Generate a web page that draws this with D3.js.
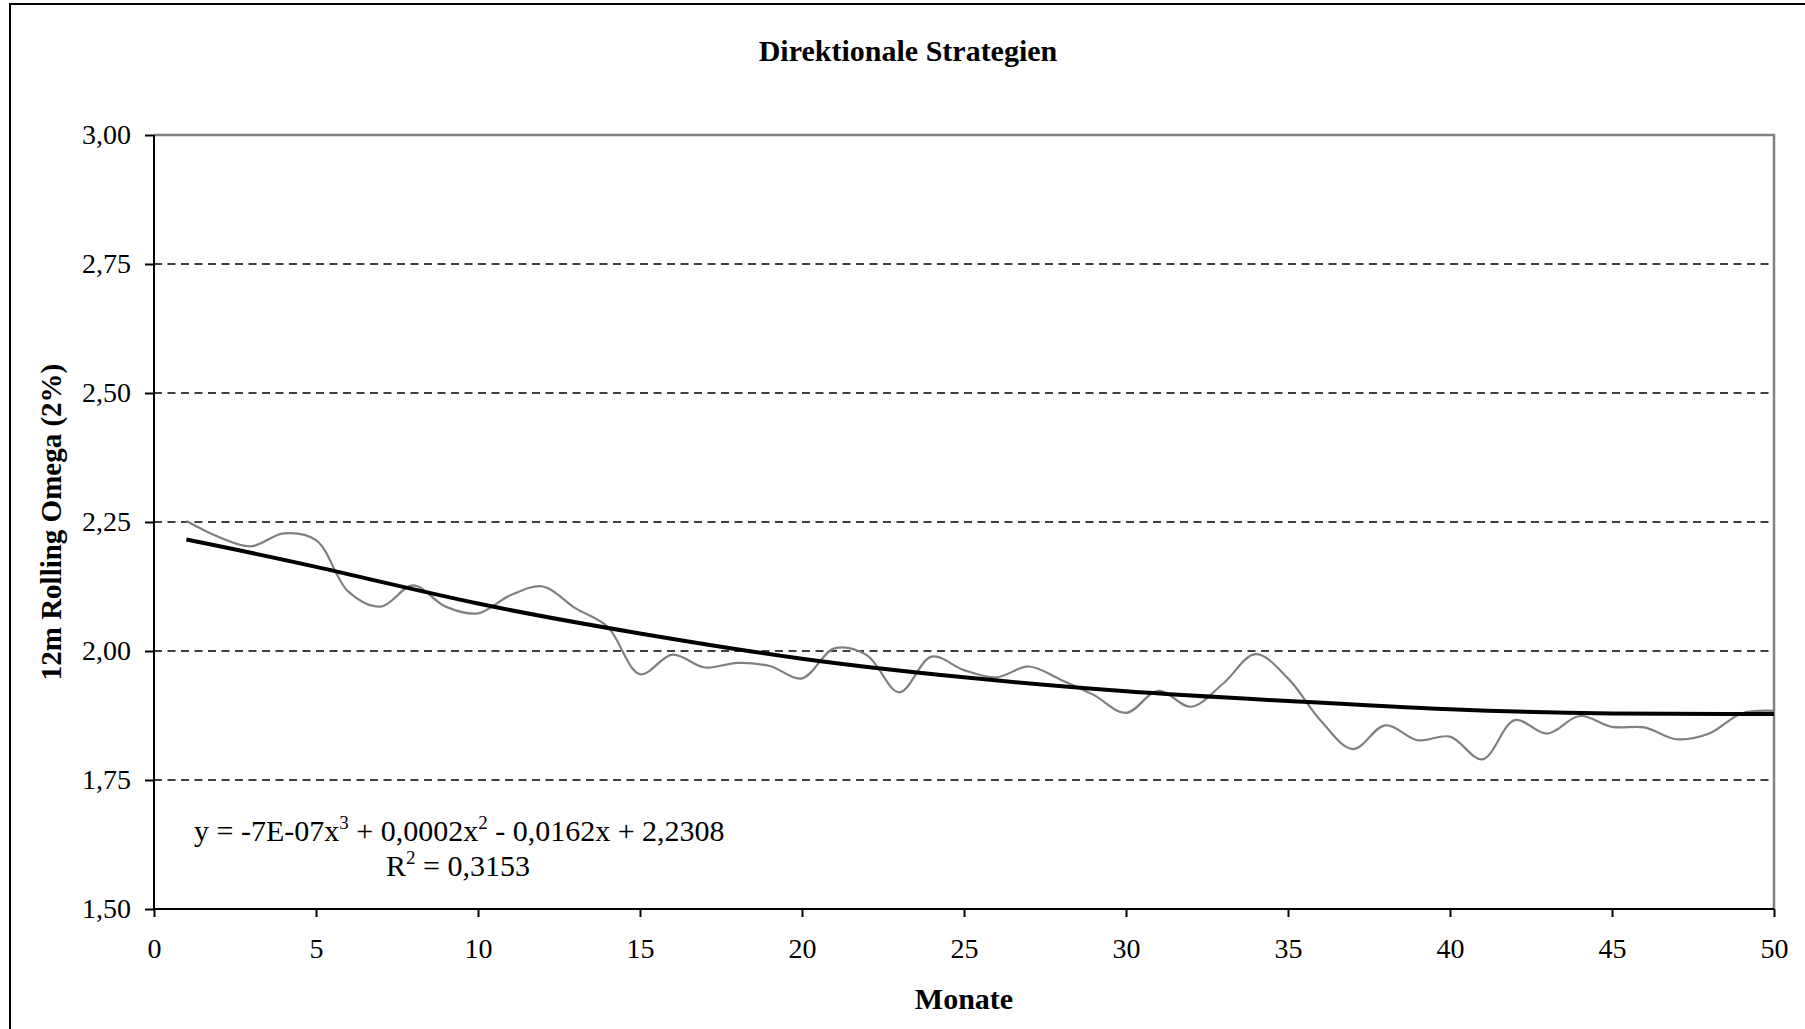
<!DOCTYPE html>
<html>
<head>
  <style>
    body { margin: 0; background: #fff; }
    svg text { font-family: "Liberation Serif", "Times New Roman", serif; fill: #000; }
  </style>
</head>
<body>
  <script src="https://d3js.org/d3.v7.min.js"></script>
  <script>
    // months 1..50
    const months = d3.range(1, 51);
    const omega = [
      2.252, 2.221, 2.203, 2.228, 2.215, 2.115, 2.086, 2.127, 2.086, 2.073,
      2.108, 2.125, 2.083, 2.047, 1.955, 1.993, 1.968, 1.977, 1.971, 1.947,
      2.005, 1.992, 1.920, 1.989, 1.963, 1.949, 1.970, 1.944, 1.915, 1.880,
      1.923, 1.892, 1.937, 1.994, 1.947, 1.866, 1.810, 1.856, 1.827, 1.834,
      1.790, 1.866, 1.840, 1.874, 1.853, 1.852, 1.829, 1.840, 1.879, 1.884
    ];
    // polynomial trend (3rd order)
    const trendX = [1, 5, 10, 15, 20, 25, 30, 35, 40, 45, 50];
    const trendY = [2.216, 2.163, 2.092, 2.034, 1.985, 1.949, 1.922, 1.903, 1.887, 1.879, 1.878];
    const yTicks = [1.5, 1.75, 2.0, 2.25, 2.5, 2.75, 3.0];
    const xTicks = [0, 5, 10, 15, 20, 25, 30, 35, 40, 45, 50];

    const width = 1805, height = 1029;
    const margin = { top: 135, right: 31, bottom: 120, left: 154 };
    const fmt = d => d.toFixed(2).replace('.', ',');

    const svg = d3.select('body').append('svg')
      .attr('width', width)
      .attr('height', height);

    // outer chart border
    svg.append('rect')
      .attr('x', 10).attr('y', 4)
      .attr('width', width).attr('height', height)
      .attr('fill', 'none')
      .attr('stroke', '#000')
      .attr('stroke-width', 2);

    const x = d3.scaleLinear().domain([0, 50]).range([margin.left, width - margin.right]);
    const y = d3.scaleLinear().domain([1.5, 3.0]).range([height - margin.bottom, margin.top]);

    // grid lines
    svg.append('g')
      .selectAll('line')
      .data(yTicks.filter(d => d > 1.5 && d < 3.0))
      .enter().append('line')
      .attr('x1', x(0)).attr('x2', x(50))
      .attr('y1', d => y(d)).attr('y2', d => y(d))
      .attr('stroke', '#000')
      .attr('stroke-width', 1.5)
      .attr('stroke-dasharray', '8,5.5');

    // plot frame top and right (grey)
    svg.append('path')
      .attr('d', `M${x(0)},${y(3)}H${x(50)}V${y(1.5)}`)
      .attr('fill', 'none')
      .attr('stroke', '#808080')
      .attr('stroke-width', 2.5);

    // axes
    const yAxis = d3.axisLeft(y).tickValues(yTicks).tickFormat(fmt).tickSize(9).tickPadding(14);
    const xAxis = d3.axisBottom(x).tickValues(xTicks).tickSize(8).tickPadding(21);

    const gy = svg.append('g').attr('transform', `translate(${x(0)},0)`).call(yAxis);
    const gx = svg.append('g').attr('transform', `translate(0,${y(1.5)})`).call(xAxis);
    [gx, gy].forEach(g => {
      g.selectAll('path, line').attr('stroke', '#000').attr('stroke-width', 2);
      g.selectAll('text').style('font-size', '28px').attr('fill', '#000');
      g.select('.domain').attr('d', g === gx
        ? `M${x(0)},0H${x(50)}` : `M0,${y(1.5)}V${y(3)}`);
    });

    // data line
    const line = d3.line()
      .x((d, i) => x(months[i]))
      .y(d => y(d))
      .curve(d3.curveCatmullRom.alpha(0.5));

    svg.append('path')
      .datum(omega)
      .attr('d', line)
      .attr('fill', 'none')
      .attr('stroke', '#808080')
      .attr('stroke-width', 2.2);

    // trend line
    const trendLine = d3.line()
      .x((d, i) => x(trendX[i]))
      .y(d => y(d))
      .curve(d3.curveNatural);

    svg.append('path')
      .datum(trendY)
      .attr('d', trendLine)
      .attr('fill', 'none')
      .attr('stroke', '#000')
      .attr('stroke-width', 4);

    // equation
    const eq = svg.append('text')
      .attr('x', 194).attr('y', 841)
      .style('font-size', '30px');
    eq.append('tspan').text('y = -7E-07x');
    eq.append('tspan').attr('dy', -12).style('font-size', '19px').text('3');
    eq.append('tspan').attr('dy', 12).text(' + 0,0002x');
    eq.append('tspan').attr('dy', -12).style('font-size', '19px').text('2');
    eq.append('tspan').attr('dy', 12).text(' - 0,0162x + 2,2308');

    const r2 = svg.append('text')
      .attr('x', 386).attr('y', 876)
      .style('font-size', '30px');
    r2.append('tspan').text('R');
    r2.append('tspan').attr('dy', -12).style('font-size', '19px').text('2');
    r2.append('tspan').attr('dy', 12).text(' = 0,3153');

    // titles
    svg.append('text')
      .attr('x', 908).attr('y', 61)
      .attr('text-anchor', 'middle')
      .style('font-size', '30px')
      .style('font-weight', 'bold')
      .text('Direktionale Strategien');

    svg.append('text')
      .attr('x', (x(0) + x(50)) / 2).attr('y', 1009)
      .attr('text-anchor', 'middle')
      .style('font-size', '30px')
      .style('font-weight', 'bold')
      .text('Monate');

    svg.append('text')
      .attr('transform', `translate(61,${(y(1.5) + y(3)) / 2}) rotate(-90)`)
      .attr('text-anchor', 'middle')
      .style('font-size', '29px')
      .style('font-weight', 'bold')
      .text('12m Rolling Omega (2%)');
  </script>
</body>
</html>
